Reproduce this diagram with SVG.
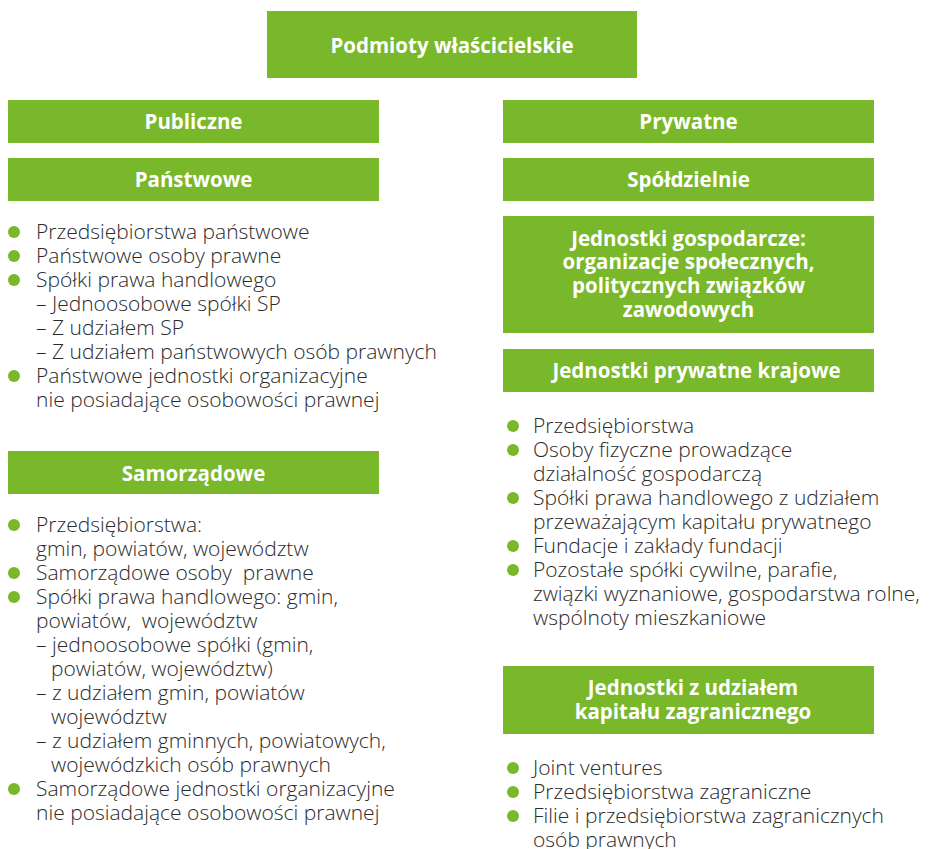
<svg xmlns="http://www.w3.org/2000/svg" width="929" height="849" viewBox="0 0 929 849">
  <style>
    .box { fill: #79b72b; }
    .hd { font-family: "Open Sans", "Noto Sans", "DejaVu Sans", sans-serif; font-weight: 700; font-size: 20.5px; fill: #ffffff; text-anchor: middle; }
    .li { font-family: "Open Sans", "Noto Sans", "DejaVu Sans", sans-serif; font-weight: 300; font-size: 21px; fill: #2b2b2b; white-space: pre; }
    .dot { fill: #79b72b; }
  </style>
  <defs>
    <circle id="bullet" r="6" class="dot"/>
  </defs>

  <rect width="929" height="849" fill="#ffffff"/>

  <!-- root -->
  <g id="root">
    <rect class="box" x="267" y="11" width="370" height="67"/>
    <text class="hd" x="452" y="52.5">Podmioty właścicielskie</text>
  </g>

  <!-- public sector column -->
  <g id="publiczne">
    <rect class="box" x="8" y="100" width="371" height="43"/>
    <text class="hd" x="193.5" y="129">Publiczne</text>
  </g>

  <g id="panstwowe">
    <rect class="box" x="8" y="158" width="371" height="43"/>
    <text class="hd" x="193.5" y="187">Państwowe</text>
  </g>

  <g id="panstwowe-list">
    <use href="#bullet" x="14" y="232"/>
    <use href="#bullet" x="14" y="256"/>
    <use href="#bullet" x="14" y="280"/>
    <use href="#bullet" x="14" y="376"/>
    <text class="li" x="36" y="239">Przedsiębiorstwa państwowe</text>
    <text class="li" x="36" y="263">Państwowe osoby prawne</text>
    <text class="li" x="36" y="287">Spółki prawa handlowego</text>
    <text class="li" x="36" y="311">– Jednoosobowe spółki SP</text>
    <text class="li" x="36" y="335">– Z udziałem SP</text>
    <text class="li" x="36" y="359">– Z udziałem państwowych osób prawnych</text>
    <text class="li" x="36" y="383">Państwowe jednostki organizacyjne</text>
    <text class="li" x="36" y="407">nie posiadające osobowości prawnej</text>
  </g>

  <g id="samorzadowe">
    <rect class="box" x="8" y="451" width="371" height="43"/>
    <text class="hd" x="193.5" y="480.5">Samorządowe</text>
  </g>

  <g id="samorzadowe-list">
    <use href="#bullet" x="14" y="525"/>
    <use href="#bullet" x="14" y="573"/>
    <use href="#bullet" x="14" y="597"/>
    <use href="#bullet" x="14" y="789"/>
    <text class="li" x="36" y="531.5">Przedsiębiorstwa:</text>
    <text class="li" x="36" y="555.5">gmin, powiatów, województw</text>
    <text class="li" x="36" y="579.5">Samorządowe osoby  prawne</text>
    <text class="li" x="36" y="603.5">Spółki prawa handlowego: gmin,</text>
    <text class="li" x="36" y="627.5">powiatów,  województw</text>
    <text class="li" x="36" y="651.5">– jednoosobowe spółki (gmin,</text>
    <text class="li" x="51" y="675.5">powiatów, województw)</text>
    <text class="li" x="36" y="699.5">– z udziałem gmin, powiatów</text>
    <text class="li" x="51" y="723.5">województw</text>
    <text class="li" x="36" y="747.5">– z udziałem gminnych, powiatowych,</text>
    <text class="li" x="51" y="771.5">wojewódzkich osób prawnych</text>
    <text class="li" x="36" y="795.5">Samorządowe jednostki organizacyjne</text>
    <text class="li" x="36" y="819.5">nie posiadające osobowości prawnej</text>
  </g>

  <!-- private sector column -->
  <g id="prywatne">
    <rect class="box" x="503" y="100" width="371" height="43"/>
    <text class="hd" x="688.5" y="129">Prywatne</text>
  </g>

  <g id="spoldzielnie">
    <rect class="box" x="503" y="158" width="371" height="43"/>
    <text class="hd" x="688.5" y="187">Spółdzielnie</text>
  </g>

  <g id="jednostki-gospodarcze">
    <rect class="box" x="503" y="216" width="371" height="117"/>
    <text class="hd" x="688.5" y="245.5">Jednostki gospodarcze:</text>
    <text class="hd" x="688.5" y="269">organizacje społecznych,</text>
    <text class="hd" x="688.5" y="292.5">politycznych związków</text>
    <text class="hd" x="688.5" y="316.5">zawodowych</text>
  </g>

  <g id="prywatne-krajowe">
    <rect class="box" x="503" y="349" width="371" height="43"/>
    <text class="hd" x="696.5" y="377.5">Jednostki prywatne krajowe</text>
  </g>

  <g id="krajowe-list">
    <use href="#bullet" x="513" y="426"/>
    <use href="#bullet" x="513" y="450"/>
    <use href="#bullet" x="513" y="498"/>
    <use href="#bullet" x="513" y="546"/>
    <use href="#bullet" x="513" y="570"/>
    <text class="li" x="533" y="432.5">Przedsiębiorstwa</text>
    <text class="li" x="533" y="456.5">Osoby fizyczne prowadzące</text>
    <text class="li" x="533" y="480.5">działalność gospodarczą</text>
    <text class="li" x="533" y="504.5">Spółki prawa handlowego z udziałem</text>
    <text class="li" x="533" y="528.5">przeważającym kapitału prywatnego</text>
    <text class="li" x="533" y="552.5">Fundacje i zakłady fundacji</text>
    <text class="li" x="533" y="576.5">Pozostałe spółki cywilne, parafie,</text>
    <text class="li" x="533" y="600.5">związki wyznaniowe, gospodarstwa rolne,</text>
    <text class="li" x="533" y="624.5">wspólnoty mieszkaniowe</text>
  </g>

  <g id="kapital-zagraniczny">
    <rect class="box" x="503" y="666" width="371" height="68"/>
    <text class="hd" x="693" y="695">Jednostki z udziałem</text>
    <text class="hd" x="693" y="718.5">kapitału zagranicznego</text>
  </g>

  <g id="zagraniczny-list">
    <use href="#bullet" x="513" y="768"/>
    <use href="#bullet" x="513" y="792"/>
    <use href="#bullet" x="513" y="816"/>
    <text class="li" x="533" y="775">Joint ventures</text>
    <text class="li" x="533" y="799">Przedsiębiorstwa zagraniczne</text>
    <text class="li" x="533" y="823">Filie i przedsiębiorstwa zagranicznych</text>
    <text class="li" x="533" y="847">osób prawnych</text>
  </g>
</svg>
